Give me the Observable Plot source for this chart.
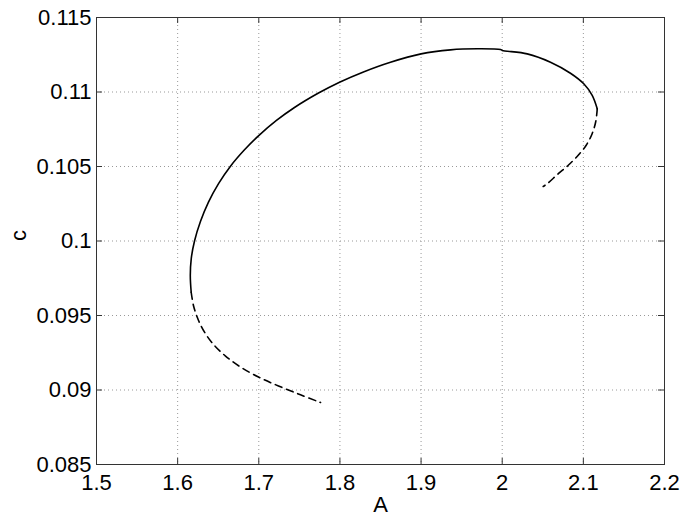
<!DOCTYPE html>
<html>
<head>
<meta charset="utf-8">
<script src="https://cdn.jsdelivr.net/npm/d3@7"></script>
<script src="https://cdn.jsdelivr.net/npm/@observablehq/plot@0.6"></script>
<style>
  html, body { margin: 0; padding: 0; background: #fff; }
  #chart svg { display: block; }
</style>
</head>
<body>
<div id="chart"></div>
<script>
// Stable (solid) branch
const solidA = [1.6167, 1.6156, 1.6168, 1.6208, 1.6282, 1.6380, 1.6504, 1.6651, 1.6824, 1.6996, 1.7218, 1.7440, 1.7736, 1.7995, 1.8290, 1.8623, 1.9000, 1.9363, 1.9695, 1.9979, 2.0000, 2.0308, 2.0595, 2.0841, 2.1005, 2.1109, 2.1171];
const solidC = [0.09656, 0.09768, 0.09883, 0.10000, 0.10132, 0.10261, 0.10385, 0.10502, 0.10612, 0.10706, 0.10809, 0.10896, 0.10993, 0.11066, 0.11135, 0.11200, 0.11256, 0.11283, 0.11290, 0.11285, 0.11279, 0.11256, 0.11200, 0.11126, 0.11055, 0.10977, 0.10887];
// Unstable (dashed) branch, upper right end
const dashUpperA = [2.1171, 2.1153, 2.1107, 2.1033, 2.0934, 2.0817, 2.0688, 2.0554, 2.0505];
const dashUpperC = [0.10887, 0.10802, 0.10718, 0.10641, 0.10574, 0.10510, 0.10450, 0.10384, 0.10366];
// Unstable (dashed) branch, lower left end
const dashLowerA = [1.6167, 1.6198, 1.6255, 1.6337, 1.6448, 1.6590, 1.6775, 1.6996, 1.7243, 1.7514, 1.7761];
const dashLowerC = [0.09656, 0.09560, 0.09470, 0.09383, 0.09302, 0.09228, 0.09154, 0.09087, 0.09027, 0.08968, 0.08916];

const xTicks = [1.5, 1.6, 1.7, 1.8, 1.9, 2.0, 2.1, 2.2];
const yTicks = [0.085, 0.09, 0.095, 0.1, 0.105, 0.11, 0.115];
const xTickLabels = ["1.5", "1.6", "1.7", "1.8", "1.9", "2", "2.1", "2.2"];
const yTickLabels = ["0.085", "0.09", "0.095", "0.1", "0.105", "0.11", "0.115"];

const toRows = (A, C) => A.map((a, i) => ({A: a, c: C[i]}));
const solid = toRows(solidA, solidC);
const dashUpper = toRows(dashUpperA, dashUpperC);
const dashLower = toRows(dashLowerA, dashLowerC);

const W = 685, H = 521;
const mL = 96, mR = 21, mT = 17, mB = 57;
const fw = W - mL - mR, fh = H - mT - mB;
const tk = 6;

const chart = Plot.plot({
  width: W,
  height: H,
  marginLeft: mL,
  marginRight: mR,
  marginTop: mT,
  marginBottom: mB,
  style: {fontFamily: "'Liberation Sans', Arial, Helvetica, sans-serif", fontSize: "22px", color: "#000", background: "#fff"},
  x: {domain: [1.5, 2.2]},
  y: {domain: [0.085, 0.115]},
  marks: [
    Plot.gridX(xTicks, {stroke: "#999", strokeOpacity: 1, strokeWidth: 1, strokeDasharray: "1,3"}),
    Plot.gridY(yTicks, {stroke: "#999", strokeOpacity: 1, strokeWidth: 1, strokeDasharray: "1,3"}),
    Plot.tickX(xTicks, {x: d => d, insetTop: fh - tk, stroke: "#333"}),
    Plot.tickX(xTicks, {x: d => d, insetBottom: fh - tk, stroke: "#333"}),
    Plot.tickY(yTicks, {y: d => d, insetRight: fw - tk, stroke: "#333"}),
    Plot.tickY(yTicks, {y: d => d, insetLeft: fw - tk, stroke: "#333"}),
    Plot.frame({stroke: "#333", strokeWidth: 1}),
    Plot.axisX(xTicks, {tickSize: 0, tickPadding: 10, tickFormat: (d, i) => xTickLabels[i], fontSize: 22, label: null}),
    Plot.axisY(yTicks, {tickSize: 0, tickPadding: 5, tickFormat: (d, i) => yTickLabels[i], fontSize: 22, label: null}),
    Plot.line(solid, {x: "A", y: "c", stroke: "#000", strokeWidth: 1.6, curve: "catmull-rom"}),
    Plot.line(dashUpper, {x: "A", y: "c", stroke: "#000", strokeWidth: 1.6, strokeDasharray: "7,5", curve: "catmull-rom"}),
    Plot.line(dashLower, {x: "A", y: "c", stroke: "#000", strokeWidth: 1.6, strokeDasharray: "7,5", curve: "catmull-rom"}),
    Plot.text(["A"], {frameAnchor: "bottom", dy: 47, fontSize: 22, fill: "#000"}),
    Plot.text(["c"], {frameAnchor: "left", dx: -78, rotate: -90, fontSize: 22, fill: "#000"})
  ]
});
document.getElementById("chart").appendChild(chart);
</script>
</body>
</html>
